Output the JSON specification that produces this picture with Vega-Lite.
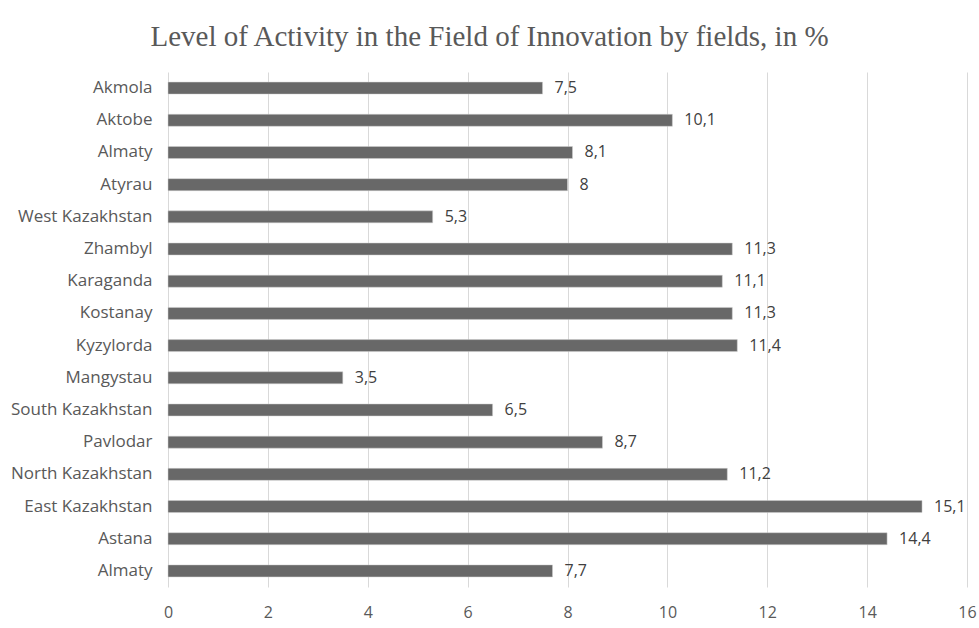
{
  "$schema": "https://vega.github.io/schema/vega-lite/v6.json",
  "autosize": "none",
  "width": 799,
  "height": 515,
  "padding": {"left": 168, "top": 72, "right": 12, "bottom": 41},
  "background": "white",
  "config": {
    "view": {"stroke": null},
    "locale": {"number": {"decimal": ",", "thousands": " ", "grouping": [3], "currency": ["", ""]}},
    "font": "Open Sans"
  },
  "title": {
    "text": "Level of Activity in the Field of Innovation by fields, in %",
    "font": "Liberation Serif",
    "fontSize": 29,
    "fontWeight": "normal",
    "color": "#595959",
    "anchor": "middle",
    "frame": "group",
    "dx": -78,
    "dy": 27,
    "baseline": "bottom",
    "offset": 18
  },
  "data": {
    "values": [
      {"region": "Akmola", "value": 7.5},
      {"region": "Aktobe", "value": 10.1},
      {"region": "Almaty", "value": 8.1},
      {"region": "Atyrau", "value": 8},
      {"region": "West Kazakhstan", "value": 5.3},
      {"region": "Zhambyl", "value": 11.3},
      {"region": "Karaganda", "value": 11.1},
      {"region": "Kostanay", "value": 11.3},
      {"region": "Kyzylorda", "value": 11.4},
      {"region": "Mangystau", "value": 3.5},
      {"region": "South Kazakhstan", "value": 6.5},
      {"region": "Pavlodar", "value": 8.7},
      {"region": "North Kazakhstan", "value": 11.2},
      {"region": "East Kazakhstan", "value": 15.1},
      {"region": "Astana", "value": 14.4},
      {"region": "Almaty ", "value": 7.7}
    ]
  },
  "encoding": {
    "y": {
      "field": "region",
      "type": "nominal",
      "sort": null,
      "scale": {"paddingInner": 0, "paddingOuter": 0},
      "axis": {
        "title": null,
        "domain": false,
        "ticks": false,
        "labelFontSize": 17,
        "labelColor": "#595959",
        "labelPadding": 16
      }
    },
    "x": {
      "field": "value",
      "type": "quantitative",
      "scale": {"domain": [0, 16], "nice": false},
      "axis": {
        "title": null,
        "values": [0, 2, 4, 6, 8, 10, 12, 14, 16],
        "domain": false,
        "ticks": false,
        "grid": true,
        "gridColor": "#d9d9d9",
        "gridWidth": 1,
        "labelFontSize": 16,
        "labelColor": "#595959",
        "labelPadding": 17,
        "labelFlush": false
      }
    }
  },
  "layer": [
    {
      "mark": {"type": "bar", "size": 12, "color": "#686868", "stroke": "#d0d0d0", "strokeWidth": 0.5}
    },
    {
      "mark": {"type": "text", "align": "left", "baseline": "middle", "dx": 12, "fontSize": 16, "color": "#404040"},
      "encoding": {
        "text": {"field": "value", "type": "quantitative", "format": ".1~f"}
      }
    }
  ]
}
